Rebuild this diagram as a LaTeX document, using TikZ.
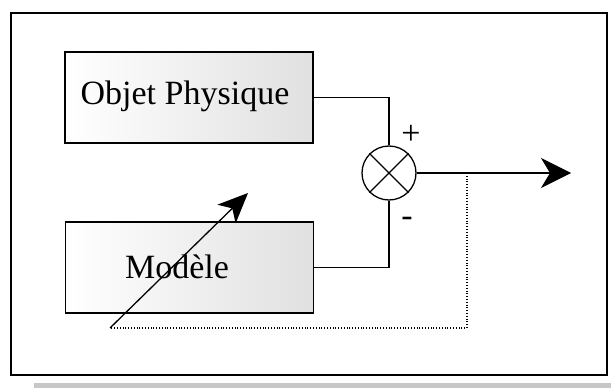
\documentclass[tikz,border=0pt]{standalone}
\usepackage{fontspec}
\setmainfont{Liberation Serif}
\usetikzlibrary{arrows.meta}
\begin{document}
\begin{tikzpicture}[x=1pt,y=-1pt,
  blockbox/.style={draw=black,line width=1.1pt,shading=axis,left color=white,right color=black!12,minimum width=248pt,minimum height=91pt,inner sep=0pt},
  lbl/.style={font=\fontsize{34}{40}\selectfont,inner sep=0pt},
  wire/.style={draw=black,line width=1.1pt},
  feed/.style={draw=black,line width=1.1pt,dash pattern=on 1pt off 1.8pt}]
\useasboundingbox (0,0) rectangle (611,388);
% shadow and frame
\fill[black!22] (34,383) rectangle (611,388);
\draw[line width=1.4pt] (11,13) rectangle (607,375);
% blocks
\node[blockbox] (obj) at (189,97.5) {};
\node[lbl] (objtxt) at (185,96.5) {Objet Physique};
\node[blockbox] (mod) at (189.5,267.5) {};
\node[lbl] (modtxt) at (177,266.5) {Modèle};
% summing junction
\node[draw=black,line width=1.3pt,circle,minimum size=54pt,inner sep=0pt,fill=white] (sum) at (389,173) {};
\draw[line width=1.3pt] (sum.north east) -- (sum.south west);
\draw[line width=1.3pt] (sum.north west) -- (sum.south east);
\node[lbl] (plus) at (411,135) {+};
\node[lbl] (minus) at (407,222) {-};
% connectors
\draw[wire] (obj.east) -| (sum.north);
\draw[wire] (mod.east) -| (sum.south);
\coordinate (out) at (571,173);
\coordinate (tap) at (467,173);
\coordinate (start) at (110,328);
\coordinate (adj) at (248,193);
\draw[wire,-{Stealth[length=30pt,width=30pt,inset=9pt]}] (sum.east) -- (out);
\draw[feed] (tap) |- (start);
\draw[line width=1.3pt,-{Stealth[length=30pt,width=26pt,inset=8pt]}] (start) -- (adj);
\end{tikzpicture}
\end{document}
